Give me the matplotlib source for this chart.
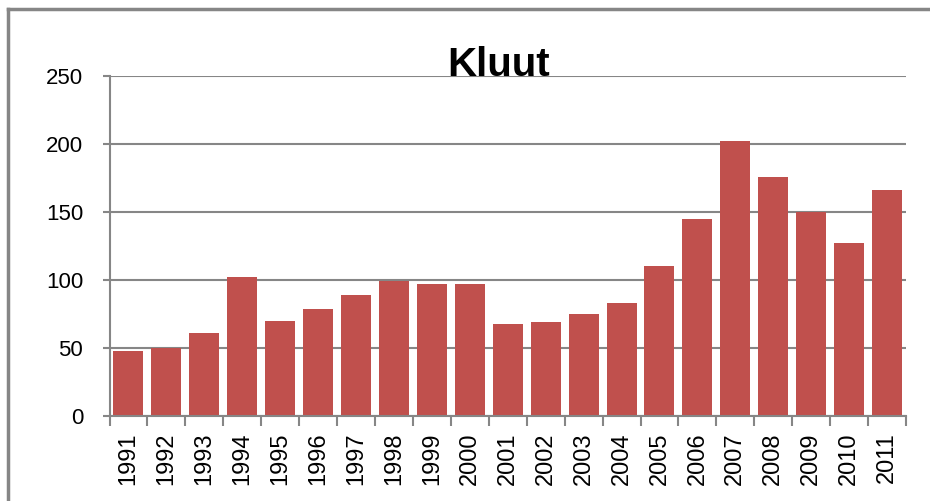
import numpy as np
import matplotlib
matplotlib.use("Agg")
import matplotlib.pyplot as plt
from matplotlib.lines import Line2D

years = [str(y) for y in range(1991, 2012)]
counts = [48, 50, 61, 102, 70, 79, 89, 99, 97, 97, 68, 69, 75, 83, 110, 145, 202, 176, 150, 127, 166]
yticks = [0, 50, 100, 150, 200, 250]

bar_color = "#C0504D"
grey = "#868686"

plt.rcParams['font.family'] = ['Liberation Sans', 'DejaVu Sans']

fig = plt.figure(figsize=(9.3, 5.01), dpi=100)
ax = fig.add_axes([109.5 / 930, 85 / 501, (906 - 109.5) / 930, 340 / 501])

x = np.arange(len(years))
ax.bar(x, counts, width=0.79, color=bar_color, zorder=3)

ax.set_xlim(-0.5, len(years) - 0.5)
ax.set_ylim(0, 250)
ax.set_yticks(yticks)
ax.set_yticklabels([str(v) for v in yticks], fontsize=16)
ax.set_xticks(x)
ax.set_xticklabels(years, rotation=90, fontsize=17)
ax.set_xticks(np.arange(-0.5, len(years)), minor=True)

ax.tick_params(axis='x', which='major', length=0, pad=12)
ax.tick_params(axis='x', which='minor', length=7, width=1.5, color=grey, direction='out')
ax.tick_params(axis='y', length=5, width=1.5, color=grey, direction='out', pad=14)

ax.yaxis.grid(True, color=grey, linewidth=1.5, zorder=0)
ax.set_axisbelow(True)
for s in ['top', 'right']:
    ax.spines[s].set_visible(False)
for s in ['left', 'bottom']:
    ax.spines[s].set_color(grey)
    ax.spines[s].set_linewidth(1.5)
    ax.spines[s].set_zorder(4)

fig.text(0.536, 1 - 76 / 501, "Kluut", ha='center', va='baseline',
         fontsize=29, fontweight='bold',
         family=['Liberation Sans Narrow', 'Liberation Sans', 'DejaVu Sans'])

# chart frame (only left and top visible in the crop)
fig.add_artist(Line2D([8 / 930, 8 / 930], [0, 1 - 9 / 501], color=grey, linewidth=2.5, transform=fig.transFigure))
fig.add_artist(Line2D([8 / 930, 1], [1 - 9 / 501, 1 - 9 / 501], color=grey, linewidth=2.5, transform=fig.transFigure))

fig.savefig("out.png", dpi=100)
